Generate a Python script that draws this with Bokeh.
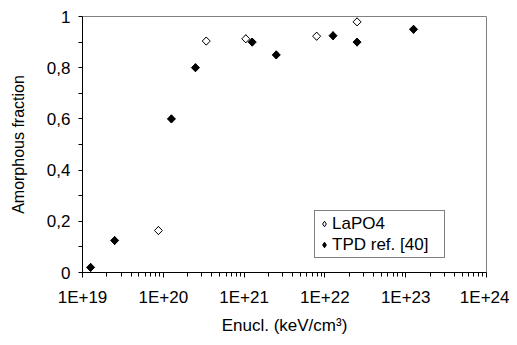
import numpy as np
from bokeh.plotting import figure
from bokeh.models import FixedTicker, Range1d, Legend, LegendItem
from bokeh.embed import file_html
from bokeh.resources import INLINE

# Data
lapo4_x = [8.7e19, 3.4e20, 1.05e21, 7.9e21, 2.5e22]
lapo4_y = [0.164, 0.904, 0.913, 0.923, 0.979]
tpd_x = [1.26e19, 2.5e19, 1.26e20, 2.5e20, 1.26e21, 2.5e21, 1.26e22, 2.5e22, 1.25e23]
tpd_y = [0.02, 0.125, 0.60, 0.80, 0.90, 0.85, 0.925, 0.90, 0.95]

series_names = ["LaPO4", "TPD ref. [40]"]

x_ticks = [1e19, 1e20, 1e21, 1e22, 1e23, 1e24]
x_tick_labels = ["1E+19", "1E+20", "1E+21", "1E+22", "1E+23", "1E+24"]
y_ticks = [0.0, 0.2, 0.4, 0.6, 0.8, 1.0]
y_tick_labels = ["0", "0,2", "0,4", "0,6", "0,8", "1"]
y_minor = [0.1, 0.3, 0.5, 0.7, 0.9]
x_minor = [m * 10.0 ** k for k in range(19, 24) for m in range(2, 10)]

FONT = "Liberation Sans"

p = figure(width=509, height=337, x_axis_type="log",
           x_range=Range1d(1e19, 1e24), y_range=Range1d(0, 1),
           output_backend="svg", toolbar_location=None,
           min_border_left=82, min_border_right=23,
           min_border_top=16, min_border_bottom=65)

p.xgrid.visible = False
p.ygrid.visible = False
p.outline_line_color = "#808080"
p.outline_line_width = 1
p.background_fill_color = "white"
p.border_fill_color = "white"

# diamond glyphs used for the legend (hidden beneath the plotted marks)
leg_open = p.scatter(lapo4_x, lapo4_y, marker="diamond", size=8,
                     fill_color="white", line_color="black", line_width=1)
leg_fill = p.scatter(tpd_x, tpd_y, marker="diamond", size=8,
                     fill_color="black", line_color="black", line_width=1)

p.scatter(lapo4_x, lapo4_y, marker="square", angle=np.pi / 4, size=5.7,
          fill_color="white", line_color="black", line_width=1)
p.scatter(tpd_x, tpd_y, marker="square", angle=np.pi / 4, size=5.7,
          fill_color="black", line_color="black", line_width=1)

lg = Legend(items=[LegendItem(label=series_names[0], renderers=[leg_open]),
                   LegendItem(label=series_names[1], renderers=[leg_fill])])
p.add_layout(lg, "center")

xa = p.xaxis[0]
xa.ticker = FixedTicker(ticks=x_ticks, minor_ticks=x_minor)
xa.major_label_overrides = {t: l for t, l in zip(x_ticks, x_tick_labels)}
xa.axis_label = "Enucl. (keV/cm\u00b3)"

ya = p.yaxis[0]
ya.ticker = FixedTicker(ticks=y_ticks, minor_ticks=y_minor)
ya.major_label_overrides = {t: l for t, l in zip(y_ticks, y_tick_labels)}
ya.axis_label = "Amorphous fraction"

for ax in (xa, ya):
    ax.axis_line_color = "black"
    ax.axis_line_width = 1
    ax.major_tick_line_color = "black"
    ax.minor_tick_line_color = "black"
    ax.major_tick_in = 0
    ax.minor_tick_in = 0
    ax.major_label_text_font = FONT
    ax.major_label_text_font_size = "17px"
    ax.major_label_text_color = "black"
    ax.axis_label_text_font = FONT
    ax.axis_label_text_font_size = "16px"
    ax.axis_label_text_font_style = "normal"
    ax.axis_label_text_color = "black"

xa.major_tick_out = 5
xa.minor_tick_out = 4
xa.major_label_standoff = 10
xa.axis_label_standoff = 6
xa.axis_label_text_font_size = "17px"
ya.major_tick_out = 4
ya.minor_tick_out = 4
ya.major_label_standoff = 8
ya.axis_label_standoff = 17

lg.location = (232, 14)
lg.margin = 0
lg.padding = 2
lg.spacing = 0
lg.label_height = 21
lg.glyph_height = 21
lg.glyph_width = 14
lg.label_standoff = 1
lg.label_width = 110
lg.label_text_font = FONT
lg.label_text_font_size = "17px"
lg.label_text_color = "black"
lg.border_line_color = "black"
lg.border_line_width = 1
lg.background_fill_color = "white"
lg.background_fill_alpha = 1.0

open("out.html", "w").write(file_html(p, INLINE))
